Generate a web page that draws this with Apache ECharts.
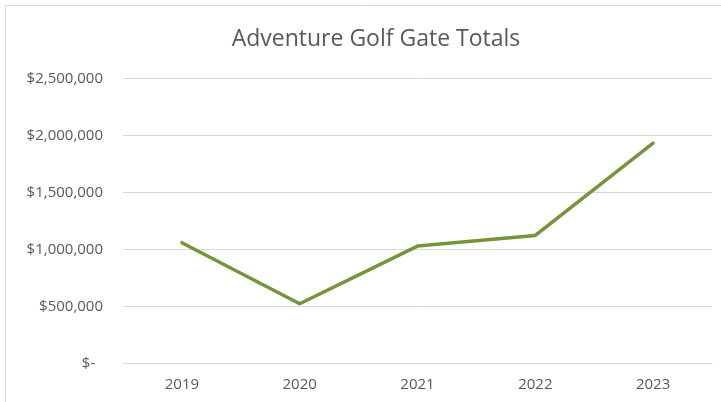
<!DOCTYPE html>
<html>
<head>
<meta charset="utf-8">
<script src="https://cdn.jsdelivr.net/npm/echarts@6/dist/echarts.min.js"></script>
<style>
html,body{margin:0;padding:0;background:#fff;}
#c{width:721px;height:402px;}
</style>
</head>
<body>
<div id="c"></div>
<script>
var categories = ['2019', '2020', '2021', '2022', '2023'];
var gateTotals = [1060000, 525000, 1030000, 1124000, 1932000];
var yTicks = [0, 500000, 1000000, 1500000, 2000000, 2500000];

function fmt(v) {
  if (v === 0) return '$-  ';
  return '$' + v.toString().replace(/\B(?=(\d{3})+(?!\d))/g, ',');
}

var chart = echarts.init(document.getElementById('c'));
chart.setOption({
  animation: false,
  backgroundColor: '#ffffff',
  graphic: [{
    type: 'rect',
    shape: { x: 5.5, y: 5.5, width: 760, height: 420 },
    style: { fill: 'none', stroke: '#d9d9d9', lineWidth: 1 },
    silent: true
  }],
  title: {
    text: 'Adventure Golf Gate Totals',
    left: 371,
    top: 23,
    textAlign: 'center',
    textStyle: { fontFamily: 'Open Sans', fontSize: 23, fontWeight: 'normal', color: '#595959' }
  },
  grid: { left: 123, right: 9, top: 78.3, bottom: 38.3, containLabel: false },
  xAxis: {
    type: 'category',
    data: categories,
    boundaryGap: true,
    axisLine: { show: true, lineStyle: { color: '#d9d9d9', width: 1 } },
    axisTick: { show: false },
    axisLabel: { color: '#595959', fontFamily: 'Open Sans', fontSize: 15, margin: 14 }
  },
  yAxis: {
    type: 'value',
    min: yTicks[0],
    max: yTicks[yTicks.length - 1],
    interval: yTicks[1] - yTicks[0],
    axisLine: { show: false },
    axisTick: { show: false },
    splitLine: { lineStyle: { color: '#d9d9d9', width: 1 } },
    axisLabel: { color: '#595959', fontFamily: 'Open Sans', fontSize: 15, margin: 20, formatter: fmt }
  },
  series: [{
    type: 'line',
    data: gateTotals,
    symbol: 'none',
    lineStyle: { color: '#77933C', width: 3.5, cap: 'round', join: 'round' },
    itemStyle: { color: '#77933C' }
  }]
});
</script>
</body>
</html>
